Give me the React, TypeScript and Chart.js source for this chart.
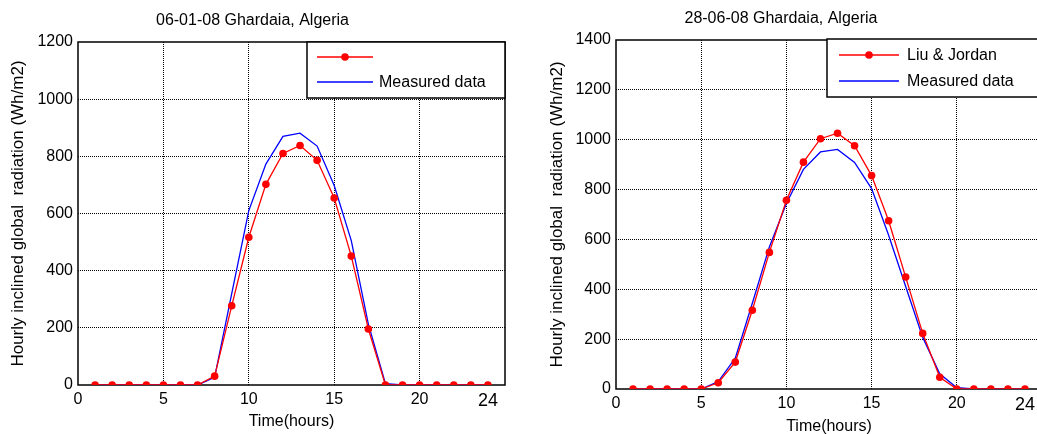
import React, { useEffect, useRef } from 'react';
import { Chart, registerables } from 'chart.js';

Chart.register(...registerables);

// ---------- data ----------
const hours = [1, 2, 3, 4, 5, 6, 7, 8, 9, 10, 11, 12, 13, 14, 15, 16, 17, 18, 19, 20, 21, 22, 23, 24];

const janTitle = '06-01-08 Ghardaia, Algeria';
const janModelLabel = '';
const janModel = [0, 0, 0, 0, 0, 0, 0, 31, 277, 517, 702, 810, 838, 786, 654, 451, 196, 0, 0, 0, 0, 0, 0, 0];
const janMeasured = [0, 0, 0, 0, 0, 0, 0, 27, 320, 610, 773, 870, 881, 836, 698, 505, 213, 5, 0, 0, 0, 0, 0, 0];

const junTitle = '28-06-08 Ghardaia, Algeria';
const junModelLabel = 'Liu & Jordan';
const junModel = [0, 0, 0, 0, 0, 25, 108, 316, 548, 757, 910, 1004, 1026, 976, 856, 675, 449, 223, 47, 0, 0, 0, 0, 0];
const junMeasured = [0, 0, 0, 0, 0, 30, 124, 344, 570, 744, 881, 951, 961, 909, 804, 617, 411, 207, 61, 5, 0, 0, 0, 0];

const measuredLabel = 'Measured data';
const xTickValues = [0, 5, 10, 15, 20, 24];
const xMax = 25;
const janYMax = 1200;
const junYMax = 1400;
const yStep = 200;
const xAxisTitle = 'Time(hours)';
const yAxisTitle = 'Hourly inclined global  radiation (Wh/m2)';

const FONT = "'Liberation Sans', Arial, Helvetica, sans-serif";

// ---------- plugins ----------
const frameBox = {
  id: 'frameBox',
  beforeDatasetsDraw(chart: any) {
    const { ctx, chartArea } = chart;
    ctx.save();
    ctx.strokeStyle = '#000';
    ctx.lineWidth = 1.5;
    ctx.setLineDash([]);
    ctx.strokeRect(chartArea.left, chartArea.top, chartArea.right - chartArea.left, chartArea.bottom - chartArea.top);
    ctx.restore();
  },
};

const boxLegend = {
  id: 'boxLegend',
  afterDraw(chart: any, _args: any, opts: any) {
    const { ctx, chartArea } = chart;
    const x = opts.anchorRight ? chartArea.right - opts.width : chartArea.left + opts.offsetX;
    const w = opts.anchorRight ? opts.width : chartArea.right - x;
    const y = chartArea.top + opts.offsetY;
    const h = opts.height;
    ctx.save();
    ctx.setLineDash([]);
    ctx.fillStyle = '#fff';
    ctx.fillRect(x, y, w, h);
    ctx.strokeStyle = '#000';
    ctx.lineWidth = 1.5;
    ctx.strokeRect(x, y, w, h);
    chart.data.datasets.forEach((ds: any, i: number) => {
      const ry = y + opts.rows[i];
      ctx.strokeStyle = ds.borderColor;
      ctx.lineWidth = ds.borderWidth;
      ctx.beginPath();
      ctx.moveTo(x + opts.lineStart, ry);
      ctx.lineTo(x + opts.lineEnd, ry);
      ctx.stroke();
      if (ds.pointRadius > 0) {
        ctx.fillStyle = ds.pointBackgroundColor;
        ctx.beginPath();
        ctx.arc(x + (opts.lineStart + opts.lineEnd) / 2, ry, ds.pointRadius, 0, Math.PI * 2);
        ctx.fill();
      }
      if (ds.label) {
        ctx.fillStyle = '#000';
        ctx.font = `16px ${FONT}`;
        ctx.textBaseline = 'middle';
        ctx.textAlign = 'left';
        ctx.fillText(ds.label, x + opts.textX, ry + 1);
      }
    });
    ctx.restore();
  },
};

type Geo = {
  width: number;
  height: number;
  padRight: number;
  yAxisWidth: number;
  xAxisHeight: number;
  titlePad: { top: number; bottom: number };
  xTitlePadBottom: number;
  yTitlePadTop: number;
  legend: any;
};

function RadiationChart(props: {
  title: string;
  modelLabel: string;
  model: number[];
  measured: number[];
  yMax: number;
  geo: Geo;
}) {
  const ref = useRef<HTMLCanvasElement | null>(null);
  const { title, modelLabel, model, measured, yMax, geo } = props;

  useEffect(() => {
    if (!ref.current) return;
    const chart = new Chart(ref.current, {
      type: 'line',
      data: {
        datasets: [
          {
            label: modelLabel,
            data: hours.map((h, i) => ({ x: h, y: model[i] })),
            borderColor: '#ff0000',
            backgroundColor: '#ff0000',
            borderWidth: 1.3,
            pointRadius: 3.8,
            pointBackgroundColor: '#ff0000',
            pointBorderWidth: 0,
            tension: 0,
          },
          {
            label: measuredLabel,
            data: hours.map((h, i) => ({ x: h, y: measured[i] })),
            borderColor: '#0000ff',
            backgroundColor: '#0000ff',
            borderWidth: 1.3,
            pointRadius: 0,
            tension: 0,
          },
        ],
      } as any,
      options: {
        animation: false,
        responsive: false,
        devicePixelRatio: 1,
        layout: { padding: { left: 0, right: geo.padRight, top: 0, bottom: 0 } },
        plugins: {
          legend: { display: false },
          tooltip: { enabled: false },
          title: {
            display: true,
            text: title,
            color: '#000',
            font: { family: FONT, size: 16, weight: 'normal' },
            padding: geo.titlePad,
          },
          boxLegend: geo.legend,
        } as any,
        scales: {
          x: {
            type: 'linear',
            min: 0,
            max: xMax,
            afterBuildTicks: (scale: any) => {
              scale.ticks = xTickValues.map((v) => ({ value: v }));
            },
            afterFit: (scale: any) => {
              scale.height = geo.xAxisHeight;
            },
            ticks: {
              color: '#000',
              padding: 5,
              maxRotation: 0,
              autoSkip: false,
              font: (ctx: any) => ({ family: FONT, size: ctx.tick && ctx.tick.value === 24 ? 18 : 16 }),
              callback: (v: any) => String(v),
            },
            grid: {
              drawTicks: false,
              color: (ctx: any) =>
                ctx.tick && (ctx.tick.value === 0 || ctx.tick.value === 24 || ctx.tick.value === xMax)
                  ? 'rgba(0,0,0,0)'
                  : '#000',
              lineWidth: 1,
            },
            border: { display: false, dash: [1, 1] },
            title: {
              display: true,
              text: xAxisTitle,
              color: '#000',
              font: { family: FONT, size: 16 },
              padding: { top: 0, bottom: geo.xTitlePadBottom },
            },
          },
          y: {
            type: 'linear',
            min: 0,
            max: yMax,
            afterFit: (scale: any) => {
              scale.width = geo.yAxisWidth;
            },
            ticks: {
              stepSize: yStep,
              color: '#000',
              padding: 5,
              font: { family: FONT, size: 16 },
              callback: (v: any) => String(v),
            },
            grid: {
              drawTicks: false,
              color: (ctx: any) =>
                ctx.tick && (ctx.tick.value === 0 || ctx.tick.value === yMax) ? 'rgba(0,0,0,0)' : '#000',
              lineWidth: 1,
            },
            border: { display: false, dash: [1, 1] },
            title: {
              display: true,
              text: yAxisTitle,
              color: '#000',
              font: { family: FONT, size: 17 },
              padding: { top: geo.yTitlePadTop, bottom: 0 },
            },
          },
        },
      } as any,
      plugins: [frameBox, boxLegend],
    });
    return () => chart.destroy();
  }, []);

  return <canvas ref={ref} width={geo.width} height={geo.height} style={{ width: geo.width, height: geo.height, display: 'block' }} />;
}

const janGeo: Geo = {
  width: 520,
  height: 434,
  padRight: 15,
  yAxisWidth: 78,
  xAxisHeight: 49,
  titlePad: { top: 11.4, bottom: 11.4 },
  xTitlePadBottom: 2.4,
  yTitlePadTop: 7.8,
  legend: { anchorRight: true, width: 198, offsetX: 0, offsetY: 0, height: 56, rows: [15, 40], lineStart: 10, lineEnd: 66, textX: 72 },
};

const junGeo: Geo = {
  width: 540,
  height: 444,
  padRight: 18,
  yAxisWidth: 96,
  xAxisHeight: 55,
  titlePad: { top: 9.4, bottom: 11.4 },
  xTitlePadBottom: 7.4,
  yTitlePadTop: 26.8,
  legend: { anchorRight: false, width: 0, offsetX: 211, offsetY: -1, height: 58, rows: [16, 42], lineStart: 12, lineEnd: 72, textX: 80 },
};

export default function App() {
  return (
    <div style={{ position: 'fixed', left: 0, top: 0, width: 1037, height: 434, overflow: 'hidden', background: '#fff' }}>
      <div style={{ position: 'absolute', left: 0, top: 0 }}>
        <RadiationChart title={janTitle} modelLabel={janModelLabel} model={janModel} measured={janMeasured} yMax={janYMax} geo={janGeo} />
      </div>
      <div style={{ position: 'absolute', left: 520, top: 0 }}>
        <RadiationChart title={junTitle} modelLabel={junModelLabel} model={junModel} measured={junMeasured} yMax={junYMax} geo={junGeo} />
      </div>
    </div>
  );
}
